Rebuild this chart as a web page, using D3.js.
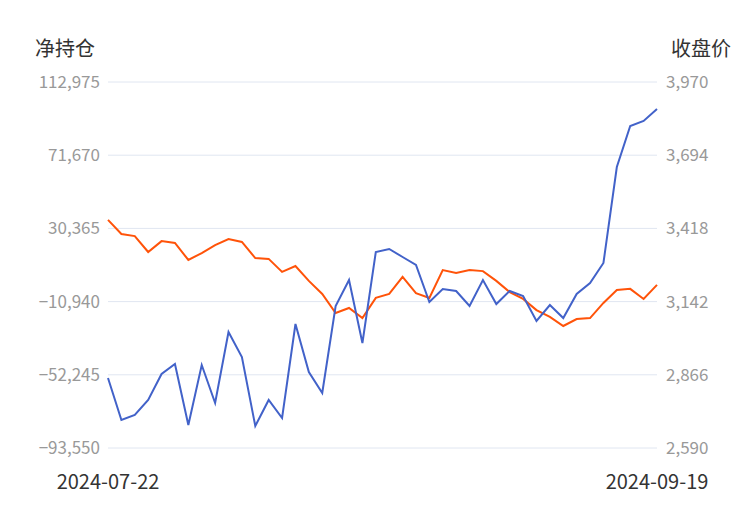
<!DOCTYPE html><html><head><meta charset="utf-8"><script src="https://cdn.jsdelivr.net/npm/d3@7"></script>
<style>body{margin:0;background:#fff}text{font-family:"Noto Sans CJK SC","Noto Sans",sans-serif}</style></head><body><svg id="c" width="750" height="510"></svg>
<script>
const dates=["2024-07-22","2024-07-23","2024-07-24","2024-07-25","2024-07-26","2024-07-29","2024-07-30","2024-07-31","2024-08-01","2024-08-02","2024-08-05","2024-08-06","2024-08-07","2024-08-08","2024-08-09","2024-08-12","2024-08-13","2024-08-14","2024-08-15","2024-08-16","2024-08-19","2024-08-20","2024-08-21","2024-08-22","2024-08-23","2024-08-26","2024-08-27","2024-08-28","2024-08-29","2024-08-30","2024-09-02","2024-09-03","2024-09-04","2024-09-05","2024-09-06","2024-09-09","2024-09-10","2024-09-11","2024-09-12","2024-09-13","2024-09-18","2024-09-19"];
const netPos=[-54052,-77752,-74930,-66466,-51795,-46152,-80573,-46716,-68159,-28095,-42202,-81137,-66466,-76623,-23581,-50666,-62516,-13424,1248,-34302,17047,18740,14226,9712,-11167,-3831,-4960,-13424,1248,-12295,-4960,-7781,-21888,-12859,-20195,-6652,-445,10840,65011,88147,90968,97739];
const close=[3450,3397,3389,3329,3370,3363,3299,3325,3355,3378,3367,3306,3303,3254,3276,3220,3171,3099,3118,3080,3156,3171,3235,3174,3156,3261,3250,3261,3257,3220,3178,3152,3110,3084,3050,3076,3080,3137,3186,3190,3152,3205];
const leftTicks=[112975,71670,30365,-10940,-52245,-93550];
const rightTicks=[3970,3694,3418,3142,2866,2590];
const svg=d3.select("#c");
const x=d3.scalePoint().domain(dates).range([108,657]);
const yL=d3.scaleLinear().domain([-93550,112975]).range([448,82]);
const yR=d3.scaleLinear().domain([2590,3970]).range([448,82]);
const g=svg.append("g");
leftTicks.forEach(t=>g.append("line").attr("x1",108).attr("x2",657).attr("y1",yL(t)).attr("y2",yL(t)).attr("stroke","#e0e6f1"));
const fmt=d3.format(",");
leftTicks.forEach(t=>svg.append("text").attr("x",100).attr("y",yL(t)).attr("dy","0.35em").attr("text-anchor","end").attr("fill","#999").attr("font-size",17).text(fmt(t)));
rightTicks.forEach(t=>svg.append("text").attr("x",666).attr("y",yR(t)).attr("dy","0.35em").attr("fill","#999").attr("font-size",17).text(fmt(t)));
svg.append("text").attr("x",35).attr("y",56).attr("font-size",20).attr("fill","#333").text("净持仓");
svg.append("text").attr("x",731).attr("y",56).attr("text-anchor","end").attr("font-size",20).attr("fill","#333").text("收盘价");
svg.append("text").attr("x",108).attr("y",489).attr("text-anchor","middle").attr("font-size",20).attr("fill","#333").text(dates[0]);
svg.append("text").attr("x",657).attr("y",489).attr("text-anchor","middle").attr("font-size",20).attr("fill","#333").text(dates[dates.length-1]);
svg.append("path").attr("d",d3.line().x((d,i)=>x(dates[i])).y(d=>yR(d))(close)).attr("fill","none").attr("stroke","#ff5309").attr("stroke-width",2);
svg.append("path").attr("d",d3.line().x((d,i)=>x(dates[i])).y(d=>yL(d))(netPos)).attr("fill","none").attr("stroke","#4262c9").attr("stroke-width",2);
</script></body></html>
